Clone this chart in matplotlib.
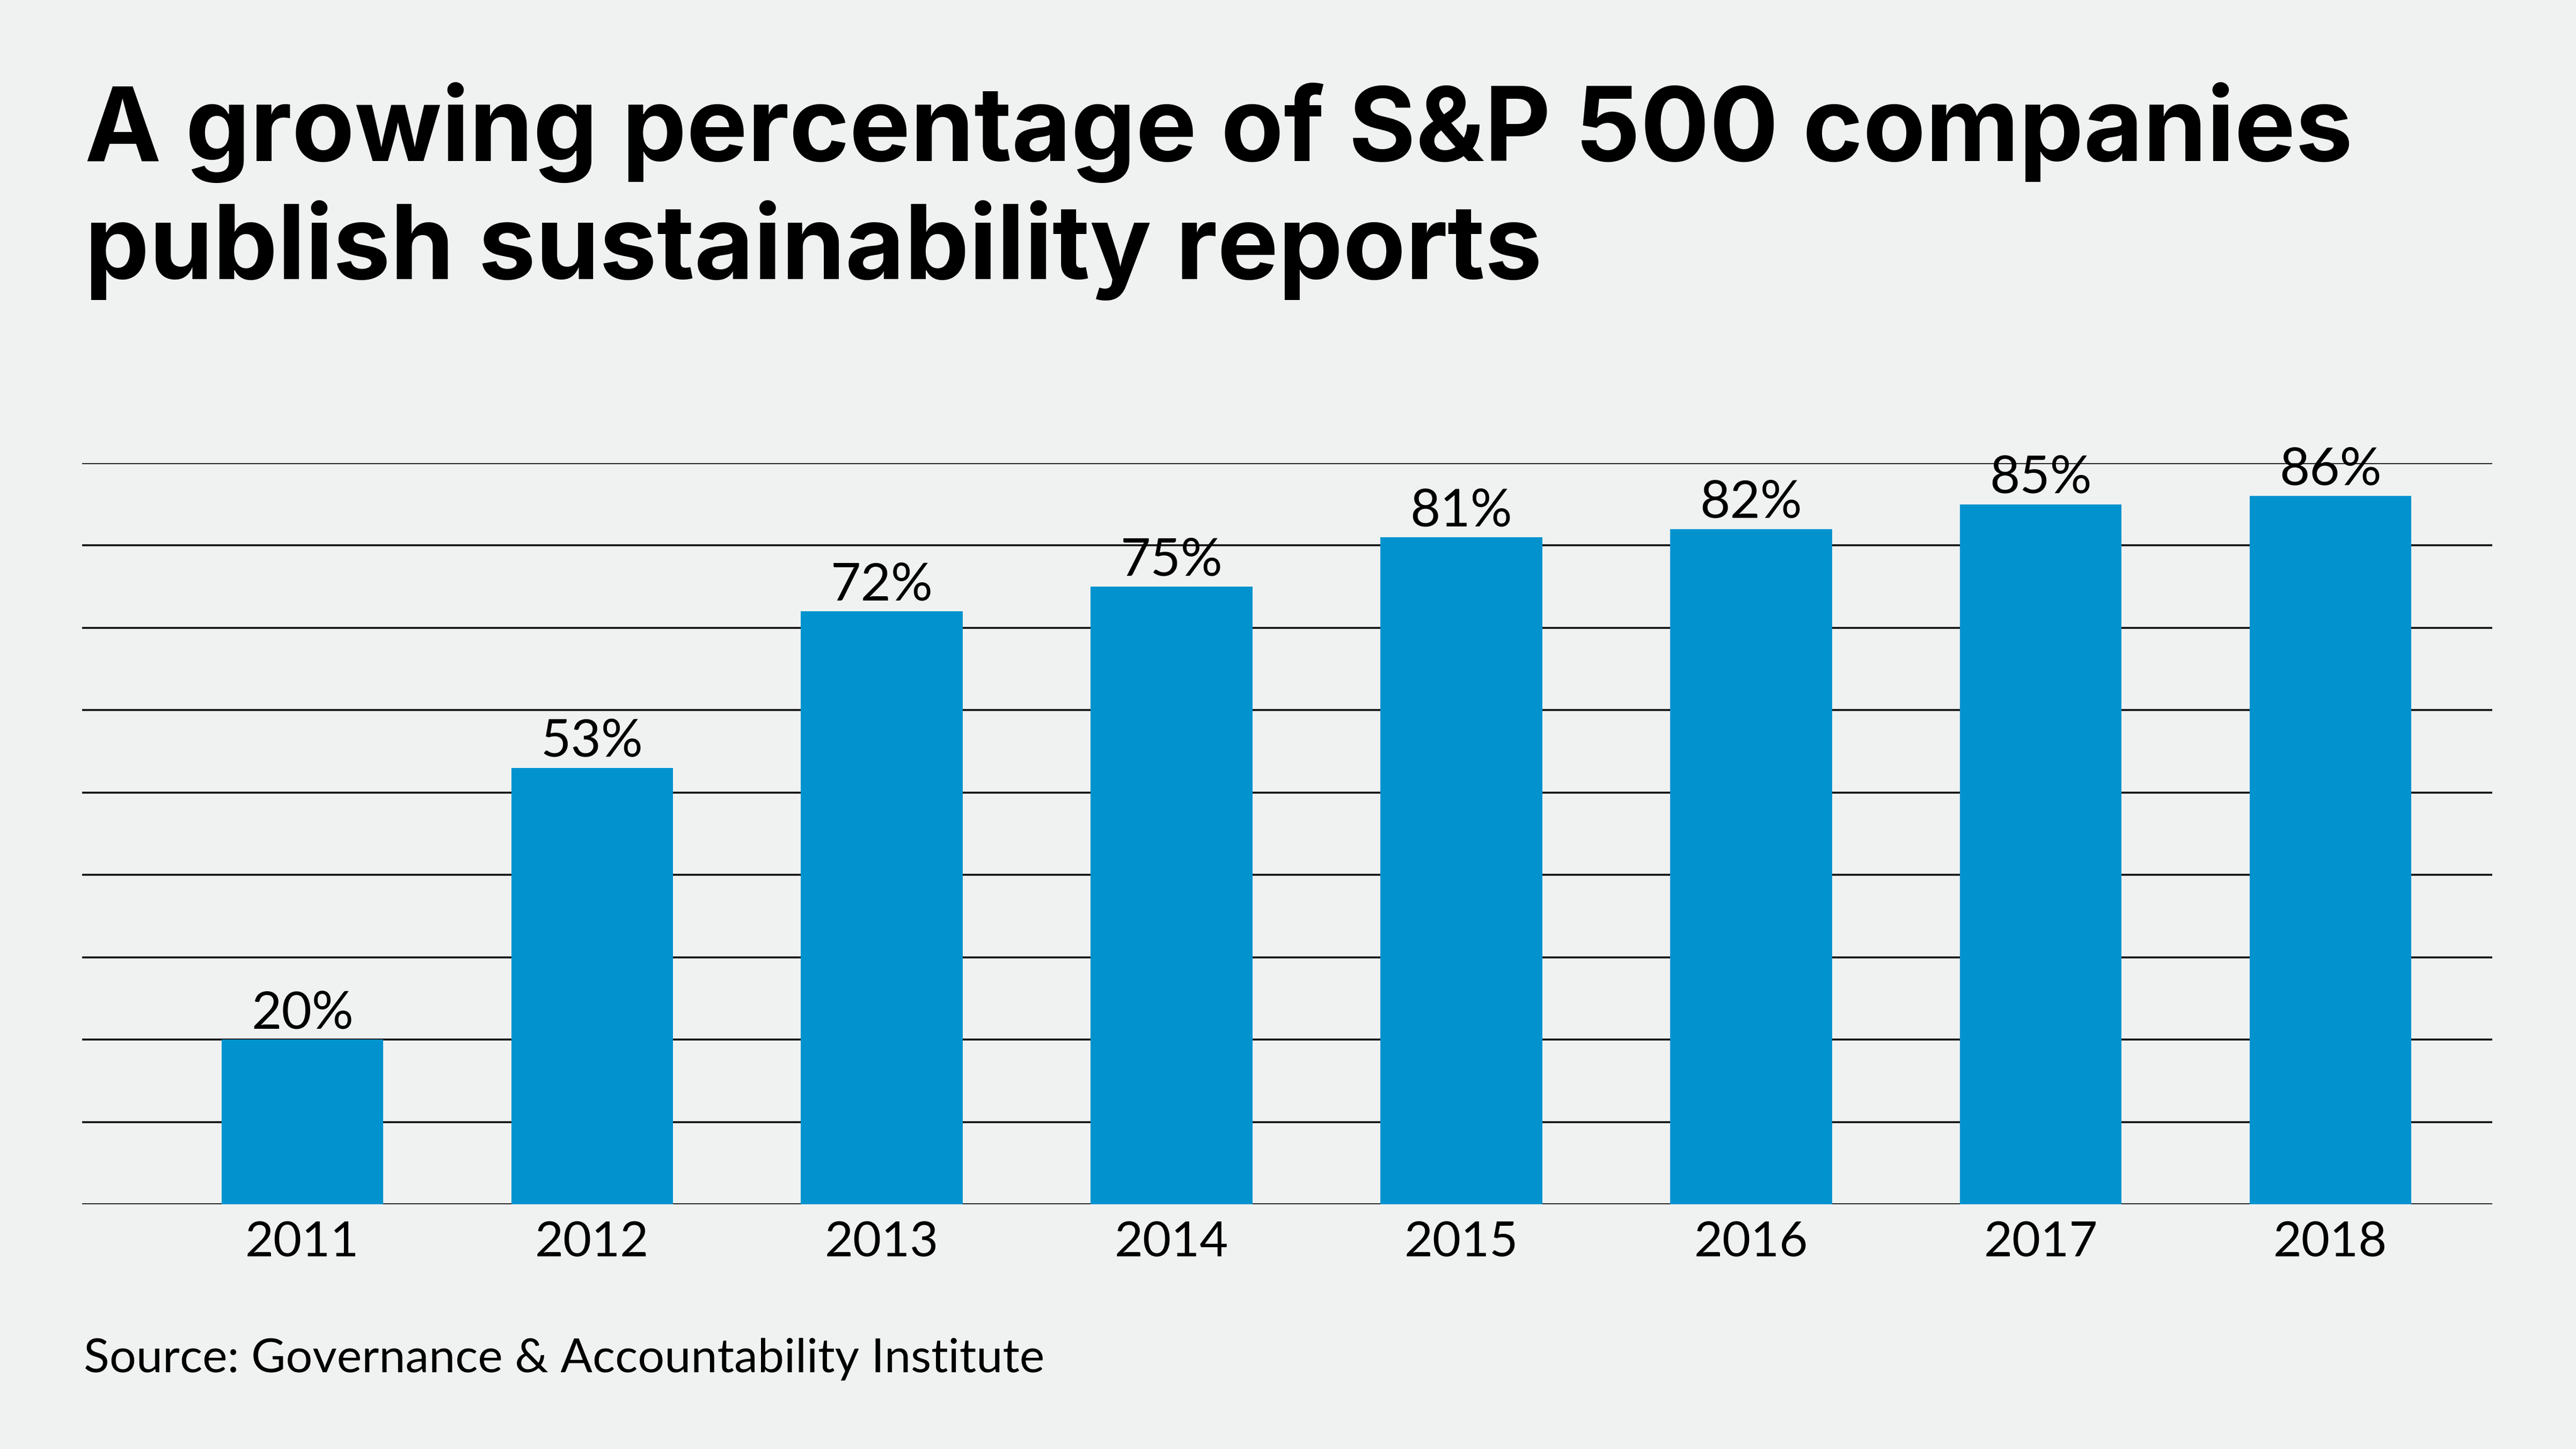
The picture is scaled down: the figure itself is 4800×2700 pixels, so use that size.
import matplotlib

matplotlib.use("Agg")
import matplotlib.pyplot as plt  # noqa: E402

# data
years = ["2011", "2012", "2013", "2014", "2015", "2016", "2017", "2018"]
share_pct = [20, 53, 72, 75, 81, 82, 85, 86]
value_labels = [f"{v}%" for v in share_pct]

title_lines = [
    "A growing percentage of S&P 500 companies",
    "publish sustainability reports",
]
source_text = "Source: Governance & Accountability Institute"

BG = "#f0f2f1"
BAR = "#0293cf"
INK = "#000000"
BODY_FONT = ["Lato", "DejaVu Sans"]
TITLE_FONT = ["Inter", "DejaVu Sans"]

fig = plt.figure(figsize=(24, 13.5), dpi=200, facecolor=BG)
ax = fig.add_axes([0.0319, 0.1689, 0.9356, 0.5115])
ax.set_facecolor(BG)

positions = list(range(len(years)))
bars = ax.bar(positions, share_pct, width=0.5585, color=BAR, zorder=2)

ax.set_xlim(-0.76, len(years) - 1 + 0.5585)
ax.set_ylim(0, 90)
ax.set_yticks(range(0, 91, 10))
ax.yaxis.grid(True, color="#111111", linewidth=1.3, zorder=1)
ax.set_axisbelow(True)
ax.tick_params(axis="y", left=False, labelleft=False)
ax.tick_params(axis="x", bottom=False, pad=7.5)
ax.set_xticks(positions)
ax.set_xticklabels(years, fontsize=33, family=BODY_FONT, color=INK)
for side in ("left", "right", "top", "bottom"):
    ax.spines[side].set_visible(False)

for rect, label in zip(bars, value_labels):
    ax.annotate(
        label,
        (rect.get_x() + rect.get_width() / 2, rect.get_height()),
        xytext=(0, 7.5),
        textcoords="offset points",
        ha="center",
        va="baseline",
        fontsize=35,
        family=BODY_FONT,
        color=INK,
        zorder=4,
        annotation_clip=False,
    )

fig.text(0.033, 1 - 300 / 2700, title_lines[0], fontsize=68.7, fontweight="bold",
         family=TITLE_FONT, color=INK, va="baseline", ha="left")
fig.text(0.033, 1 - 520 / 2700, title_lines[1], fontsize=68.7, fontweight="bold",
         family=TITLE_FONT, color=INK, va="baseline", ha="left")
fig.text(0.0325, 1 - 2556 / 2700, source_text, fontsize=31.7, family=BODY_FONT,
         color=INK, va="baseline", ha="left")

fig.savefig("out.png", dpi=200, facecolor=BG)
